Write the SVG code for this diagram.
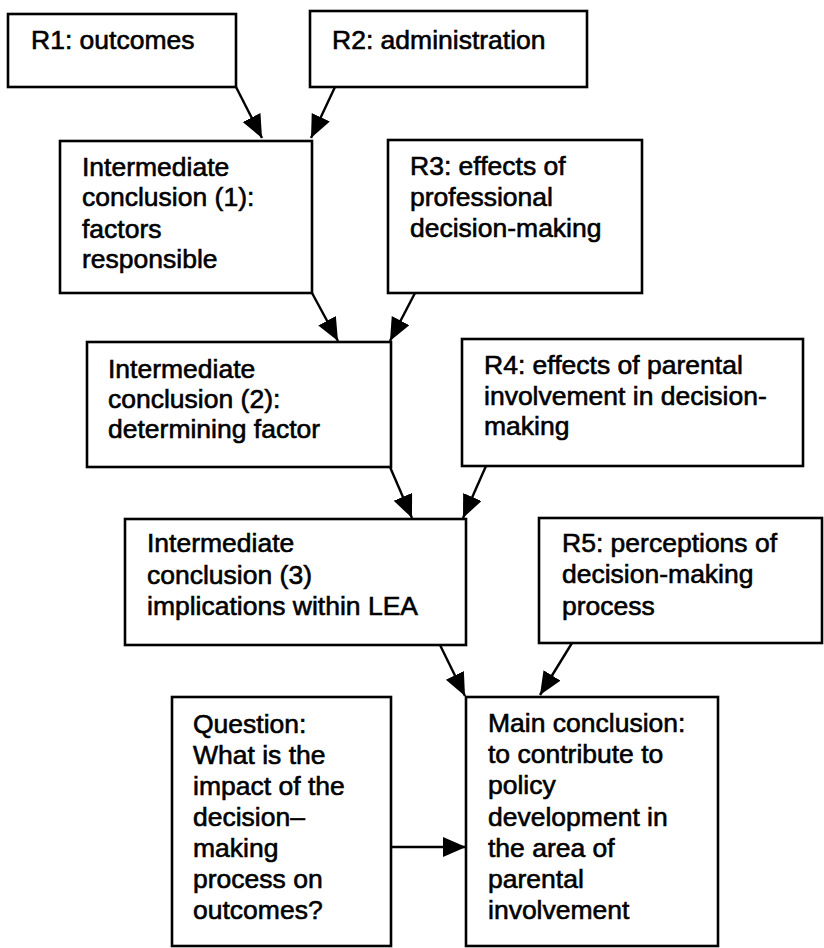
<svg xmlns="http://www.w3.org/2000/svg" width="824" height="948" viewBox="0 0 824 948">
<style>
.box{fill:#fff;stroke:#000;stroke-width:2.6}
.t{font-family:"Liberation Sans",Arial,sans-serif;font-size:26.5px;fill:#000;stroke:#000;stroke-width:0.6}
.c{stroke:#000;stroke-width:2.4;fill:none;marker-end:url(#ah)}
</style>
<defs>
<marker id="ah" markerUnits="userSpaceOnUse" markerWidth="26" markerHeight="22" refX="23" refY="10" orient="auto">
<path d="M0,0 L23,10 L0,20 z" fill="#000"/>
</marker>
</defs>
<rect width="824" height="948" fill="#fff"/>
<g id="connectors">
<line class="c" x1="236" y1="87" x2="262" y2="138"/>
<line class="c" x1="335" y1="87" x2="311" y2="138"/>
<line class="c" x1="312" y1="293" x2="338" y2="341"/>
<line class="c" x1="415" y1="293" x2="390" y2="341"/>
<line class="c" x1="390" y1="467" x2="412" y2="518"/>
<line class="c" x1="486" y1="466" x2="463" y2="518"/>
<line class="c" x1="440" y1="645" x2="465" y2="696"/>
<line class="c" x1="572" y1="643" x2="540" y2="695"/>
<line class="c" x1="391" y1="847" x2="466" y2="847"/>
</g>
<g id="r1">
<rect class="box" x="8" y="14" width="228" height="73"/>
<text class="t" x="31" y="49">R1: outcomes</text>
</g>
<g id="r2">
<rect class="box" x="310" y="11" width="277" height="76"/>
<text class="t" x="332" y="49">R2: administration</text>
</g>
<g id="ic1">
<rect class="box" x="60" y="141" width="252" height="152"/>
<text class="t" x="82" y="176">Intermediate</text>
<text class="t" x="82" y="206">conclusion (1):</text>
<text class="t" x="82" y="238">factors</text>
<text class="t" x="82" y="268">responsible</text>
</g>
<g id="r3">
<rect class="box" x="388" y="140" width="254" height="153"/>
<text class="t" x="410" y="175">R3: effects of</text>
<text class="t" x="410" y="206">professional</text>
<text class="t" x="410" y="237">decision-making</text>
</g>
<g id="ic2">
<rect class="box" x="87" y="342" width="304" height="125"/>
<text class="t" x="108" y="378">Intermediate</text>
<text class="t" x="108" y="408">conclusion (2):</text>
<text class="t" x="108" y="438">determining factor</text>
</g>
<g id="r4">
<rect class="box" x="462" y="339" width="341" height="127"/>
<text class="t" x="484" y="374">R4: effects of parental</text>
<text class="t" x="484" y="405">involvement in decision-</text>
<text class="t" x="484" y="435">making</text>
</g>
<g id="ic3">
<rect class="box" x="125" y="519" width="341" height="126"/>
<text class="t" x="147" y="552">Intermediate</text>
<text class="t" x="147" y="584">conclusion (3)</text>
<text class="t" x="147" y="615">implications within LEA</text>
</g>
<g id="r5">
<rect class="box" x="539" y="518" width="283" height="125"/>
<text class="t" x="562" y="552">R5: perceptions of</text>
<text class="t" x="562" y="583">decision-making</text>
<text class="t" x="562" y="615">process</text>
</g>
<g id="question">
<rect class="box" x="172" y="697" width="219" height="249"/>
<text class="t" x="193" y="733">Question:</text>
<text class="t" x="193" y="764">What is the</text>
<text class="t" x="193" y="795">impact of the</text>
<text class="t" x="193" y="826">decision–</text>
<text class="t" x="193" y="857">making</text>
<text class="t" x="193" y="888">process on</text>
<text class="t" x="193" y="919">outcomes?</text>
</g>
<g id="main">
<rect class="box" x="466" y="697" width="252" height="249"/>
<text class="t" x="488" y="732">Main conclusion:</text>
<text class="t" x="488" y="763">to contribute to</text>
<text class="t" x="488" y="794">policy</text>
<text class="t" x="488" y="826">development in</text>
<text class="t" x="488" y="857">the area of</text>
<text class="t" x="488" y="888">parental</text>
<text class="t" x="488" y="919">involvement</text>
</g>
</svg>
